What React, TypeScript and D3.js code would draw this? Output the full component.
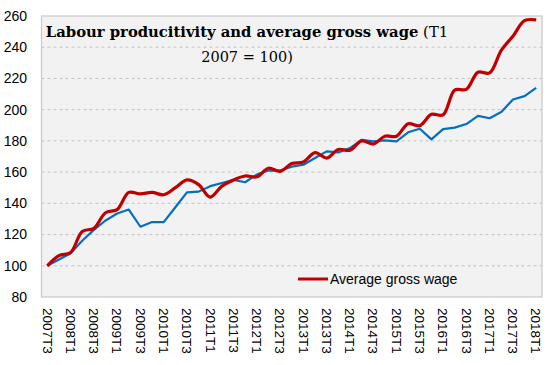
import { useEffect, useRef } from "react";
import * as d3 from "d3";

// quarterly index, T1 2007 = 100
const quarters = [
  "2007T3", "2007T4",
  "2008T1", "2008T2", "2008T3", "2008T4",
  "2009T1", "2009T2", "2009T3", "2009T4",
  "2010T1", "2010T2", "2010T3", "2010T4",
  "2011T1", "2011T2", "2011T3", "2011T4",
  "2012T1", "2012T2", "2012T3", "2012T4",
  "2013T1", "2013T2", "2013T3", "2013T4",
  "2014T1", "2014T2", "2014T3", "2014T4",
  "2015T1", "2015T2", "2015T3", "2015T4",
  "2016T1", "2016T2", "2016T3", "2016T4",
  "2017T1", "2017T2", "2017T3", "2017T4",
  "2018T1",
];

const productivity = [
  100, 104, 108, 116, 123, 129, 133.5, 136, 125, 128,
  128, 137.5, 147, 147.5, 151, 153, 155, 153.5, 158.5, 161,
  161, 163.5, 164.7, 169, 173.3, 172.6, 175.4, 180.7, 179.7, 180.3,
  179.7, 185.5, 187.8, 181, 187.5, 188.5, 190.8, 196, 194.5, 198.5,
  206.5, 208.7, 214,
];

const grossWage = [
  100, 106.5, 108.5, 122, 124, 134, 136, 147, 146, 147,
  145.5, 150, 155, 152, 144, 151, 155, 157.5, 157, 162.5,
  160.5, 165.5, 166.5, 172.5, 169, 174.5, 174, 180, 178, 183,
  183, 191, 189.7, 197, 196.7, 212.5, 213, 224, 223.5, 238,
  247, 257, 257.5,
];

const yTicks = [80, 100, 120, 140, 160, 180, 200, 220, 240, 260];

const W = 550;
const H = 365;
const SANS = "'Liberation Sans', Arial, sans-serif";
const SERIF = "'DejaVu Serif', Georgia, serif";

export default function App() {
  const svgRef = useRef<SVGSVGElement>(null);

  useEffect(() => {
    const svg = d3.select(svgRef.current);
    svg.selectAll("*").remove();

    const left = 41.5, right = 542, top = 16, bottom = 297;

    const x = d3.scalePoint<string>()
      .domain(quarters)
      .range([left, right])
      .padding(0.5);

    const y = d3.scaleLinear()
      .domain([80, 260])
      .range([bottom, top]);

    // plot area
    svg.append("rect")
      .attr("x", left)
      .attr("y", top)
      .attr("width", right - left)
      .attr("height", bottom - top)
      .attr("fill", "#f2f2f2")
      .attr("stroke", "#c9c9c9")
      .attr("stroke-width", 1.2);

    svg.append("g")
      .selectAll("line")
      .data(yTicks.filter(t => t > 80 && t < 260))
      .join("line")
      .attr("x1", left)
      .attr("x2", right)
      .attr("y1", d => y(d))
      .attr("y2", d => y(d))
      .attr("stroke", "#c4c4c4")
      .attr("stroke-width", 1)
      .attr("stroke-dasharray", "3,3");

    // y labels
    svg.append("g")
      .selectAll("text")
      .data(yTicks)
      .join("text")
      .attr("x", 27)
      .attr("y", d => y(d))
      .attr("dy", "0.35em")
      .attr("text-anchor", "end")
      .attr("font-family", SANS)
      .attr("font-size", 14)
      .attr("fill", "#000")
      .text(d => d);

    // x labels, every second quarter, rotated
    svg.append("g")
      .selectAll("text")
      .data(quarters.filter((_, i) => i % 2 === 0))
      .join("text")
      .attr("transform", d => `translate(${x(d)},308) rotate(90)`)
      .attr("dy", "0.35em")
      .attr("font-family", SANS)
      .attr("font-size", 13.5)
      .attr("fill", "#000")
      .text(d => d);

    const line = (vals: number[], curve: d3.CurveFactory) =>
      d3.line<number>()
        .x((_, i) => x(quarters[i])!)
        .y(d => y(d))
        .curve(curve)(vals);

    svg.append("path")
      .attr("d", line(productivity, d3.curveLinear))
      .attr("fill", "none")
      .attr("stroke", "#0070c0")
      .attr("stroke-width", 2.2)
      .attr("stroke-linejoin", "round");

    svg.append("path")
      .attr("d", line(grossWage, d3.curveCatmullRom.alpha(0.5)))
      .attr("fill", "none")
      .attr("stroke", "#c00000")
      .attr("stroke-width", 3.2)
      .attr("stroke-linejoin", "round");

    // legend
    svg.append("line")
      .attr("x1", 298)
      .attr("x2", 328)
      .attr("y1", 279)
      .attr("y2", 279)
      .attr("stroke", "#c00000")
      .attr("stroke-width", 3);

    svg.append("text")
      .attr("x", 330)
      .attr("y", 279)
      .attr("dy", "0.35em")
      .attr("font-family", SANS)
      .attr("font-size", 14)
      .attr("fill", "#000")
      .text("Average gross wage");

    // title
    const title = svg.append("text")
      .attr("x", 247)
      .attr("y", 37)
      .attr("text-anchor", "middle")
      .attr("font-family", SERIF)
      .attr("font-size", 14.8)
      .attr("fill", "#000");
    title.append("tspan")
      .attr("font-weight", "bold")
      .text("Labour producitivity and average gross wage");
    title.append("tspan").text(" (T1");

    svg.append("text")
      .attr("x", 247)
      .attr("y", 62)
      .attr("text-anchor", "middle")
      .attr("font-family", SERIF)
      .attr("font-size", 14.5)
      .attr("fill", "#000")
      .text("2007 = 100)");
  }, []);

  return (
    <svg
      ref={svgRef}
      width={W}
      height={H}
      style={{ position: "absolute", left: 0, top: 0, background: "#fff" }}
    />
  );
}
